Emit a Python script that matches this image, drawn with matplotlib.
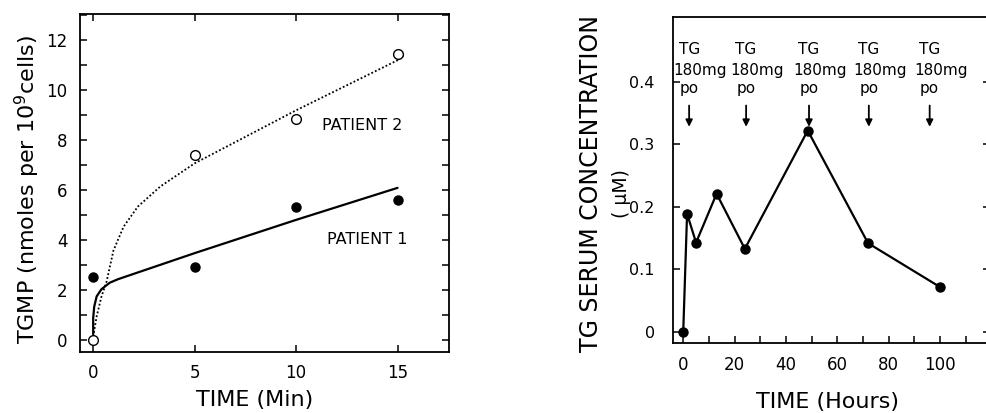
import matplotlib
matplotlib.use("Agg")
import matplotlib.pyplot as plt
from matplotlib.ticker import MultipleLocator

plt.rcParams['font.family'] = ['DejaVu Sans']
plt.rcParams['mathtext.fontset'] = 'dejavusans'

# --- left panel: TGMP in cells
min_pts = [0, 5, 10, 15]
patient1 = [2.53, 2.95, 5.35, 5.61]
patient2 = [0.0, 7.4, 8.87, 11.47]

# hand-drawn fit curves
fit1_x = [0.0, 0.0, 0.05, 0.17, 0.41, 0.82, 1.23, 5, 10, 15]
fit1_y = [0.25, 0.9, 1.35, 1.76, 2.05, 2.31, 2.45, 3.49, 4.82, 6.1]
fit2_x = [0.0, 0.17, 0.41, 0.66, 1.0, 1.5, 2.2, 3.3, 5, 10, 15, 15.3]
fit2_y = [0.15, 0.96, 1.76, 2.35, 3.6, 4.55, 5.35, 6.15, 7.08, 9.2, 11.2, 11.4]

# --- right panel: serum concentration
hours = [0, 1.5, 5, 13, 24, 48.5, 72, 100]
conc = [0.0, 0.189, 0.143, 0.221, 0.133, 0.322, 0.142, 0.072]
dose_hours = [2.3, 24.5, 49, 72.3, 96]

fig = plt.figure(figsize=(9.87, 4.13), dpi=100)

ax1 = fig.add_axes([80 / 987, 1 - 351.7 / 413, (449.3 - 80) / 987, (351.7 - 14) / 413])
ax1.plot(fit1_x, fit1_y, color='black', lw=1.6, solid_capstyle='round')
ax1.plot(fit2_x, fit2_y, color='black', lw=1.3, linestyle=(0, (1, 1.2)))
ax1.plot(min_pts, patient1, 'o', color='black', ms=6.5)
ax1.plot(min_pts, patient2, 'o', mfc='white', mec='black', mew=1.0, ms=7)
ax1.text(11.27, 8.6, 'PATIENT 2', fontsize=11.5, va='center', ha='left')
ax1.text(11.51, 4.02, 'PATIENT 1', fontsize=11.5, va='center', ha='left')
ax1.set_xlim(-0.65, 17.55)
ax1.set_ylim(-0.45, 13.05)
ax1.set_xticks([0, 5, 10, 15])
ax1.set_yticks([0, 2, 4, 6, 8, 10, 12])
ax1.yaxis.set_minor_locator(MultipleLocator(1))
ax1.tick_params(which='both', direction='in', top=True, right=True,
                length=5, width=1.1, labelsize=12)
ax1.tick_params(axis='y', pad=9)
ax1.tick_params(axis='x', pad=9)

ax2 = fig.add_axes([672.7 / 987, 1 - 343.3 / 413, (990 - 672.7) / 987, (343.3 - 17) / 413])
ax2.plot(hours, conc, '-o', color='black', lw=1.6, ms=6.5)
for h in dose_hours:
    ax2.annotate('', xy=(h, 0.328), xytext=(h, 0.362),
                 arrowprops=dict(arrowstyle='-|>', color='black', lw=1.3,
                                 mutation_scale=10, shrinkA=0, shrinkB=0))
    ax2.text(h, 0.451, 'TG', fontsize=11, ha='center', va='center')
    ax2.annotate('180mg', xy=(h, 0.418), xytext=(8, 0), textcoords='offset points',
                 fontsize=11, ha='center', va='center')
    ax2.text(h, 0.389, 'po', fontsize=11, ha='center', va='center')
ax2.set_xlim(-4.1, 119.5)
ax2.set_ylim(-0.018, 0.5035)
ax2.set_xticks([0, 20, 40, 60, 80, 100])
ax2.xaxis.set_minor_locator(MultipleLocator(10))
ax2.set_yticks([0, 0.1, 0.2, 0.3, 0.4])
ax2.set_yticklabels(['0', '0.1', '0.2', '0.3', '0.4'])
ax2.tick_params(which='both', direction='in', right=True, length=5, width=1.1, labelsize=11.5)
ax2.tick_params(axis='y', pad=13)
ax2.tick_params(axis='x', pad=9, labelsize=12)

for ax in (ax1, ax2):
    for s in ax.spines.values():
        s.set_linewidth(1.3)
ax2.spines['right'].set_visible(False)

# axis titles
fig.text(255 / 987, 1 - 400 / 413, 'TIME (Min)', fontsize=16, ha='center', va='center')
fig.text(27 / 987, 1 - 189.5 / 413, 'TGMP (nmoles per 10$^9$cells)', fontsize=16,
         rotation=90, ha='center', va='center')
fig.text(828 / 987, 1 - 402 / 413, 'TIME (Hours)', fontsize=16, ha='center', va='center')
fig.text(591 / 987, 1 - 183.5 / 413, 'TG SERUM CONCENTRATION', fontsize=17,
         rotation=90, ha='center', va='center')
fig.text(622 / 987, 1 - 193.5 / 413, '( μM)', fontsize=13.5,
         rotation=90, ha='center', va='center')

fig.savefig('out.png', dpi=100)
